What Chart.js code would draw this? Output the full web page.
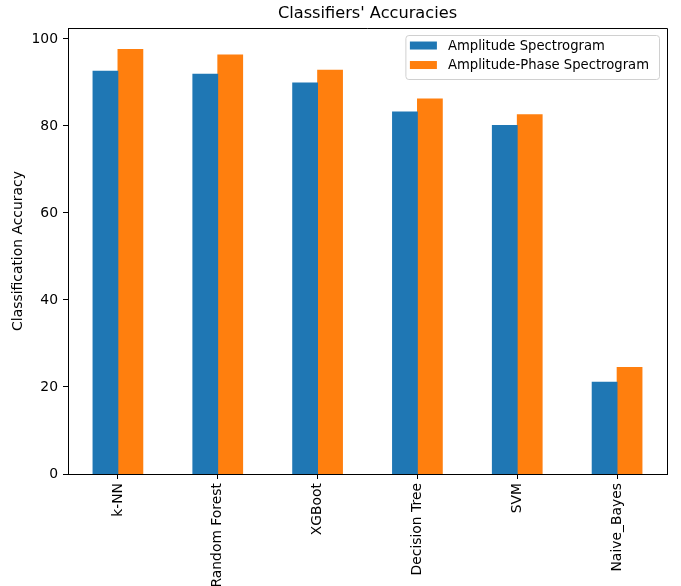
<!DOCTYPE html>
<html>
<head>
<meta charset="utf-8">
<script src="https://cdn.jsdelivr.net/npm/chart.js@4/dist/chart.umd.min.js"></script>
<style>
  html, body { margin: 0; padding: 0; background: #fff; }
  canvas { display: block; }
</style>
</head>
<body>
<canvas id="chart" width="681" height="586"></canvas>
<script>
// Classifier names along the x axis
const classifiers = ['k-NN', 'Random Forest', 'XGBoot', 'Decision Tree', 'SVM', 'Naive_Bayes'];

// Accuracy (%) per feature representation
const amplitudeAcc = [92.6, 91.9, 89.9, 83.2, 80.1, 21.1];
const amplitudePhaseAcc = [97.6, 96.3, 92.8, 86.2, 82.6, 24.5];

const seriesNames = ['Amplitude Spectrogram', 'Amplitude-Phase Spectrogram'];
const seriesColors = ['#1f77b4', '#ff7f0e'];

const FONT = 'DejaVu Sans';
Chart.defaults.color = '#000';
Chart.defaults.font.family = FONT;

// Closes the frame on the top and right sides of the plot area
const framePlugin = {
  id: 'frame',
  afterDraw(chart) {
    const { ctx, chartArea: a } = chart;
    ctx.save();
    ctx.strokeStyle = '#000';
    ctx.lineWidth = 1;
    ctx.beginPath();
    ctx.moveTo(a.left, a.top + 0.5);
    ctx.lineTo(a.right + 0.5, a.top + 0.5);
    ctx.lineTo(a.right + 0.5, a.bottom);
    ctx.stroke();
    ctx.restore();
  }
};

// Framed legend in the upper right corner inside the plot area
const boxedLegend = {
  id: 'boxedLegend',
  afterDraw(chart) {
    const { ctx, chartArea: a } = chart;
    const fs = 13.2;
    const padL = 4.5, padR = 10, handleW = 27, handleH = 8, gap = 11, rowH = 19.5;
    const sets = chart.data.datasets;
    ctx.save();
    ctx.font = fs + 'px "' + FONT + '"';
    let tw = 0;
    sets.forEach(d => { tw = Math.max(tw, ctx.measureText(d.label).width); });
    const w = padL + handleW + gap + tw + padR;
    const h = 44;
    const x = a.right - 8 - w;
    const y = a.top + 7;
    ctx.beginPath();
    ctx.roundRect(x + 0.5, y + 0.5, w, h, 3);
    ctx.fillStyle = 'rgba(255,255,255,0.8)';
    ctx.fill();
    ctx.strokeStyle = '#d0d0d0';
    ctx.lineWidth = 1;
    ctx.stroke();
    ctx.textBaseline = 'middle';
    ctx.textAlign = 'left';
    sets.forEach((d, i) => {
      const cy = y + 10.5 + i * rowH;
      ctx.fillStyle = d.backgroundColor;
      ctx.fillRect(x + padL, cy - handleH / 2, handleW, handleH);
      ctx.fillStyle = '#000';
      ctx.fillText(d.label, x + padL + handleW + gap, cy + 1);
    });
    ctx.restore();
  }
};

new Chart(document.getElementById('chart'), {
  type: 'bar',
  data: {
    labels: classifiers,
    datasets: [
      { label: seriesNames[0], data: amplitudeAcc, backgroundColor: seriesColors[0] },
      { label: seriesNames[1], data: amplitudePhaseAcc, backgroundColor: seriesColors[1] }
    ]
  },
  options: {
    responsive: false,
    animation: false,
    devicePixelRatio: 1,
    layout: { padding: { left: 0, right: 14, top: 0, bottom: 0 } },
    datasets: {
      bar: { categoryPercentage: 0.5, barPercentage: 1.0, borderWidth: 0, inflateAmount: 0.4 }
    },
    plugins: {
      legend: { display: false },
      tooltip: { enabled: false },
      title: {
        display: true,
        fullSize: false,
        text: "Classifiers' Accuracies",
        font: { family: FONT, size: 16.2, weight: 'normal', lineHeight: 1.125 },
        color: '#000',
        padding: { top: 5, bottom: 4.8 }
      }
    },
    scales: {
      x: {
        offset: true,
        grid: { display: true, drawOnChartArea: false, drawTicks: true, tickLength: 5, color: '#000', offset: false },
        border: { display: true, color: '#000', width: 1 },
        ticks: { minRotation: 90, maxRotation: 90, padding: 4, font: { family: FONT, size: 13.9 }, color: '#000', autoSkip: false },
        afterFit(scale) { scale.height = 112; }
      },
      y: {
        min: 0,
        max: 102.5,
        grid: { display: true, drawOnChartArea: false, drawTicks: true, tickLength: 5, color: '#000' },
        border: { display: true, color: '#000', width: 1 },
        ticks: { stepSize: 20, includeBounds: false, padding: 5, font: { family: FONT, size: 13.9 }, color: '#000' },
        title: {
          display: true,
          text: 'Classification Accuracy',
          font: { family: FONT, size: 13.9 },
          color: '#000',
          padding: { top: 10, bottom: 0 }
        },
        afterFit(scale) { scale.width = 68; }
      }
    }
  },
  plugins: [framePlugin, boxedLegend]
});
</script>
</body>
</html>
